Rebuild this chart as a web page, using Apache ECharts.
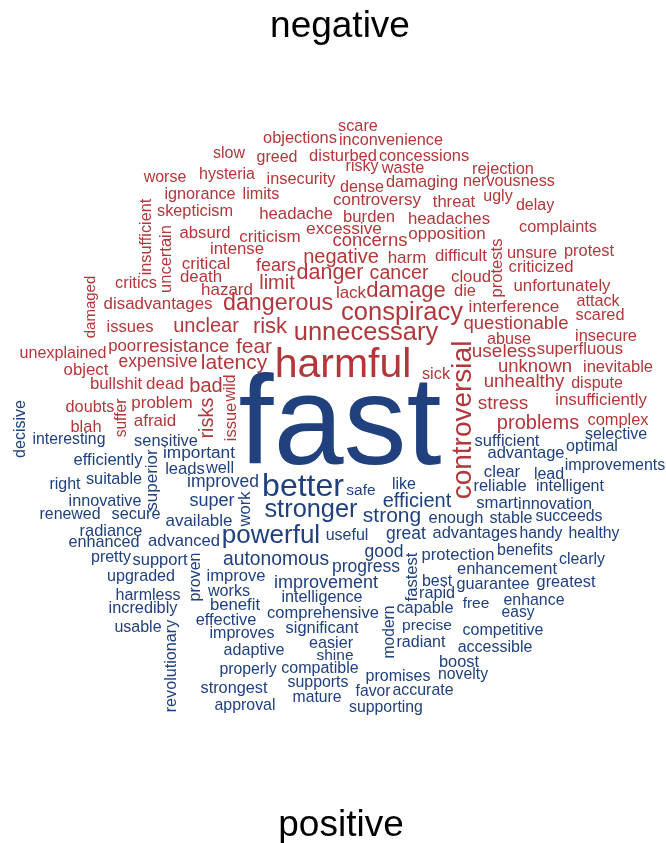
<!DOCTYPE html>
<html>
<head>
<meta charset="utf-8">
<script src="https://cdn.jsdelivr.net/npm/echarts@6/dist/echarts.min.js"></script>
<style>
html,body{margin:0;padding:0;background:#fff;}
#main{width:666px;height:843px;}
</style>
</head>
<body>
<div id="main"></div>
<script>
// Group titles
const groupTitles = ["negative", "positive"];

// Words: [word, size (frequency-weighted), x, y, rotation]
const negativeWords = [
  ["scare",16.3,358,127,0],["objections",16.4,300,138,0],["inconvenience",16.3,391,141,0],
  ["slow",16,229,154,0],["greed",16,277,158,0],["disturbed",16.5,343,156,0],["concessions",16.4,424,156,0],
  ["risky",16,362,167,0],["waste",16.3,403,169,0],["rejection",16.4,503,169,0],
  ["hysteria",16,227,175,0],["insecurity",16.3,301,180,0],["dense",16.2,362,188,0],["damaging",16.4,422,182,0],["nervousness",16.2,509,182,0],
  ["worse",16,165,178,0],["ignorance",16.2,200,195,0],["limits",16.2,261,195,0],["controversy",17,377,200,0],
  ["threat",16.6,454,202,0],["ugly",16,498,197,0],["delay",16,535,206,0],
  ["skepticism",16.3,195,212,0],["headache",16.8,296,214,0],["burden",16.7,369,217,0],["headaches",16.8,449,219,0],["complaints",16.3,558,228,0],
  ["insufficient",16.3,147,237,90],["uncertain",16.5,166,259,90],
  ["absurd",16.7,205,233,0],["criticism",17,270,237,0],["excessive",17.3,344,229,0],["concerns",18.5,370,241,0],["opposition",17,447,234,0],
  ["intense",16.8,237,249,0],["critical",17.2,206,264,0],["negative",20,341,257,0],["harm",17,407,258,0],["difficult",16.8,461,256,0],
  ["protests",16.6,497,268,90],["unsure",16.4,532,253,0],["protest",16.4,589,251,0],["criticized",16.7,541,267,0],
  ["death",16.8,201,277,0],["fears",18,276,266,0],["danger",21.5,330,273,0],["cancer",19.6,399,274,0],["cloud",16.7,471,277,0],
  ["die",16.5,465,291,0],["unfortunately",16.8,562,286,0],["critics",16.4,136,283,0],["damaged",15,91,307,90],
  ["hazard",17,227,290,0],["limit",20,277,283,0],["lack",17,351,293,0],["damage",22,406,291,0],
  ["interference",17.2,514,307,0],["attack",16.2,598,302,0],["disadvantages",16.9,158,304,0],["dangerous",23.3,278,304,0],
  ["conspiracy",25.5,402,313,0],["scared",16.3,600,316,0],["issues",16.6,130,327,0],["unclear",20,206,326,0],["risk",22,270,327,0],
  ["unnecessary",25.5,366,333,0],["questionable",18.5,516,324,0],["insecure",16.4,606,336,0],
  ["unexplained",16.1,63,354,0],["poor",16.8,125,346,0],["resistance",19,186,347,0],["fear",21,254,347,0],
  ["harmful",41,343,366,0],["abuse",16.2,509,340,0],["useless",19,504,352,0],["superfluous",16.7,580,349,0],
  ["controversial",28,463,420,90],["expensive",17.5,158,362,0],["latency",21,234,363,0],["object",16.8,86,370,0],
  ["sick",16.3,436,375,0],["unknown",18.5,535,367,0],["inevitable",16.6,618,367,0],
  ["bullshit",16.8,116,384,0],["dead",17,165,384,0],["bad",20,206,386,0],["wild",15.7,231,388,90],["issue",16.5,231,422,90],
  ["unhealthy",18.6,524,382,0],["dispute",16,597,384,0],["doubts",16.3,90,408,0],["suffer",15.6,122,418,90],
  ["problem",17,162,403,0],["risks",20,207,418,90],["insufficiently",16.9,601,400,0],["stress",19,503,404,0],
  ["afraid",17,155,421,0],["blah",16.4,86,427,0],["problems",20,538,423,0],["complex",16.4,618,420,0]
];

const positiveWords = [
  ["fast",126,340,429,0],["decisive",16,21,429,90],["interesting",15.8,69,440,0],["sensitive",16.4,166,441,0],
  ["sufficient",16.5,507,441,0],["selective",16,616,435,0],["superior",17,152,480,90],["important",17.3,199,453,0],
  ["advantage",16.5,526,453,0],["optimal",16.1,592,447,0],["efficiently",16.6,108,460,0],["leads",16.6,185,469,0],
  ["well",16.3,220,469,0],["improvements",16,615,466,0],["clear",16.8,502,472,0],["lead",16,549,475,0],
  ["suitable",16.3,114,480,0],["improved",17.5,223,482,0],["right",16,65,485,0],["like",16,404,485,0],
  ["reliable",16.5,500,486,0],["intelligent",16.1,570,487,0],["better",32,303,487,0],["safe",15.5,361,491,0],
  ["innovative",16.2,105,502,0],["super",18,212,501,0],["work",16.6,245,509,90],["efficient",20,417,501,0],
  ["smart",16.7,497,503,0],["innovation",16.2,555,505,0],["stronger",25.4,311,510,0],["strong",21,392,516,0],
  ["enough",16.5,456,518,0],["stable",16.1,511,519,0],["succeeds",15.9,569,517,0],["renewed",15.9,70,515,0],
  ["secure",16.3,136,515,0],["available",17,199,521,0],["radiance",16.4,111,531,0],["great",17.5,406,534,0],
  ["advantages",16.4,475,533,0],["handy",15.8,541,534,0],["healthy",15.8,594,534,0],["powerful",26,271,536,0],
  ["useful",16,347,536,0],["enhanced",16.2,104,543,0],["advanced",16.6,184,541,0],["good",17.5,384,552,0],
  ["protection",16.6,458,555,0],["benefits",16,525,551,0],["fastest",16.6,412,577,90],["pretty",16,111,558,0],
  ["support",16.5,160,560,0],["autonomous",19.3,276,560,0],["clearly",15.9,582,560,0],["progress",17.5,366,567,0],
  ["enhancement",16.5,507,569,0],["proven",16,196,577,90],["upgraded",16.1,141,577,0],["improve",16.6,236,576,0],
  ["improvement",18,326,583,0],["best",16,437,582,0],["guarantee",16.2,493,585,0],["greatest",16.3,566,583,0],
  ["works",16.1,229,592,0],["harmless",16,148,596,0],["intelligence",16.2,322,598,0],["rapid",16.2,437,594,0],
  ["free",15.5,476,604,0],["enhance",15.9,534,601,0],["incredibly",16.3,143,609,0],["benefit",16.7,235,605,0],
  ["comprehensive",16.5,323,613,0],["capable",16.3,425,609,0],["easy",15.6,518,613,0],["modern",15.6,390,632,90],
  ["effective",16.4,226,620,0],["usable",16,138,628,0],["significant",16.4,322,628,0],["precise",15.5,427,626,0],
  ["competitive",16,503,631,0],["improves",16,242,634,0],["revolutionary",16.2,172,666,90],["adaptive",16.1,254,651,0],
  ["easier",16.2,331,644,0],["radiant",16,421,643,0],["accessible",16,495,648,0],["shine",15.5,335,656,0],
  ["boost",16.4,459,662,0],["properly",15.8,248,670,0],["compatible",16,320,669,0],["promises",16,398,677,0],
  ["novelty",15.8,463,675,0],["strongest",16.3,234,689,0],["supports",15.9,318,683,0],["favor",15.7,373,692,0],
  ["accurate",15.9,423,691,0],["mature",15.7,317,698,0],["approval",15.9,245,706,0],["supporting",15.8,386,708,0]
];

const RED = '#B2373A';
const BLUE = '#20407E';
const FONT = '"Liberation Sans", Arial, Helvetica, sans-serif';

function toData(list) {
  return list.map(function (d) {
    return { name: d[0], value: [d[2], d[3]], label: { fontSize: d[1], rotate: d[4] } };
  });
}

function wordSeries(list, color) {
  return {
    type: 'scatter',
    symbolSize: 1,
    itemStyle: { color: 'rgba(0,0,0,0)', opacity: 1 },
    silent: true,
    emphasis: { disabled: true },
    label: {
      show: true,
      position: 'inside',
      formatter: '{b}',
      color: color,
      opacity: 1,
      fontFamily: FONT,
      align: 'center',
      verticalAlign: 'middle'
    },
    data: toData(list)
  };
}

const chart = echarts.init(document.getElementById('main'), null, { renderer: 'canvas' });
chart.setOption({
  animation: false,
  grid: { left: 0, right: 0, top: 0, bottom: 0 },
  xAxis: { type: 'value', min: 0, max: 666, show: false },
  yAxis: { type: 'value', min: 0, max: 843, inverse: true, show: false },
  graphic: [
    { type: 'text', x: 340, y: 27, style: { text: groupTitles[0], font: '37px ' + FONT, fill: '#000', align: 'center', verticalAlign: 'middle', textAlign: 'center', textVerticalAlign: 'middle' } },
    { type: 'text', x: 341, y: 826, style: { text: groupTitles[1], font: '37px ' + FONT, fill: '#000', align: 'center', verticalAlign: 'middle', textAlign: 'center', textVerticalAlign: 'middle' } }
  ],
  series: [wordSeries(negativeWords, RED), wordSeries(positiveWords, BLUE)]
});
</script>
</body>
</html>
